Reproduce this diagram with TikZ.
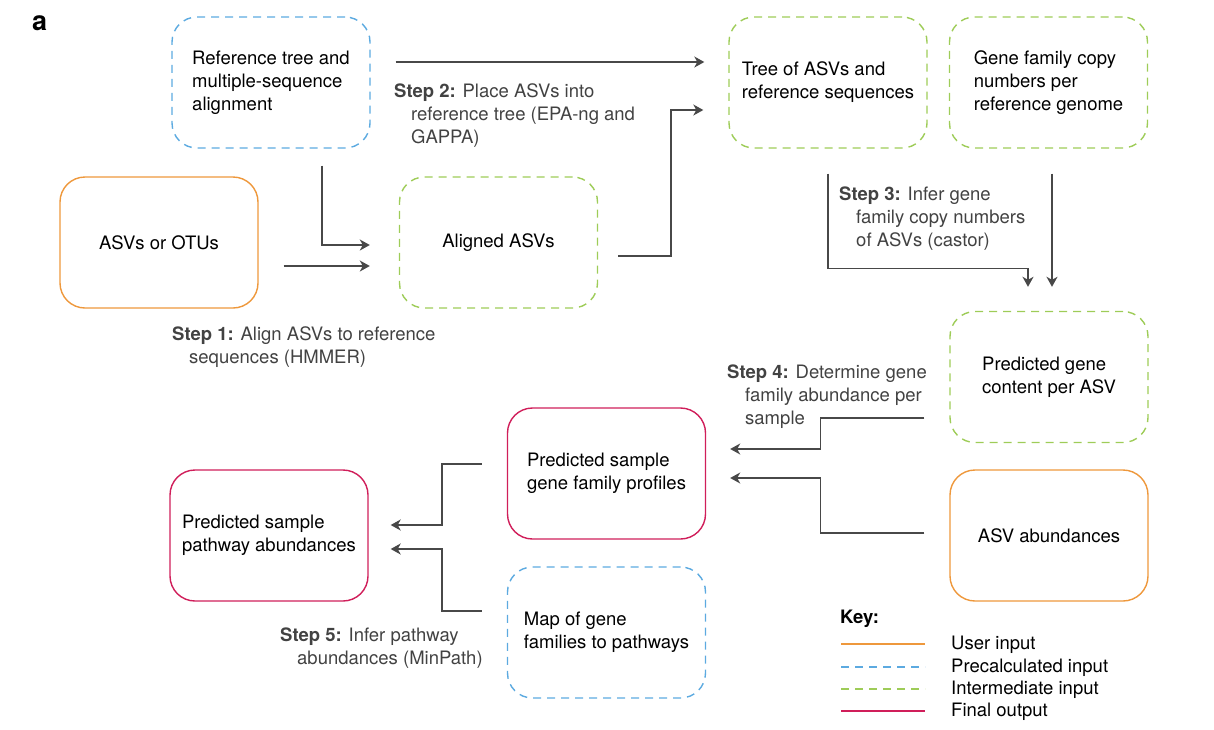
\documentclass[tikz,border=0pt]{standalone}
\usepackage{fontspec}
\setmainfont{TeX Gyre Heros}
\usetikzlibrary{arrows.meta,calc}
\definecolor{cuser}{RGB}{238,152,60}
\definecolor{cpre}{RGB}{92,170,224}
\definecolor{cint}{RGB}{158,204,88}
\definecolor{cfin}{RGB}{208,30,90}
\definecolor{carrow}{RGB}{72,72,72}
\definecolor{cstep}{RGB}{66,66,66}
\begin{document}
\begin{tikzpicture}[x=1pt,y=-1pt,
  box/.style={rounded corners=25pt, minimum width=198pt, minimum height=131pt, align=left,
    font=\fontsize{18.5}{23}\selectfont, line width=1.4pt, inner sep=0pt},
  userbox/.style={box, draw=cuser},
  prebox/.style={box, draw=cpre, dash pattern=on 8pt off 6pt},
  interbox/.style={box, draw=cint, dash pattern=on 8pt off 6pt},
  finalbox/.style={box, draw=cfin},
  arr/.style={draw=carrow, line width=1.5pt, -{Stealth[length=10pt,width=11pt,inset=3pt]}},
  steplbl/.style={anchor=north west, inner sep=0pt, align=left, text=cstep,
    font=\fontsize{18.5}{23}\selectfont},
  keylbl/.style={anchor=west, inner sep=0pt, font=\fontsize{18.5}{23}\selectfont},
  keyln/.style={line width=1.4pt},
]
\useasboundingbox (0,0) rectangle (1214,729);

\node[anchor=base west, inner sep=0pt, font=\fontsize{27}{30}\selectfont\bfseries] (lbla) at (32,30) {a};

% boxes
\node[prebox]   (ref)     at (271,82.5)    {Reference tree and\\multiple-sequence\\alignment};
\node[interbox] (tree)    at (828,82.5)    {Tree of ASVs and\\reference sequences};
\node[interbox] (gcn)     at (1048.5,82.5) {Gene family copy\\numbers per\\reference genome};
\node[userbox]  (asvs)    at (159,242.5)   {ASVs or OTUs};
\node[interbox] (aligned) at (498.5,242.5) {Aligned ASVs};
\node[interbox] (pgc)     at (1049,377)    {Predicted gene\\content per ASV};
\node[userbox]  (abund)   at (1049,535.5)  {ASV abundances};
\node[finalbox] (psg)     at (606.5,473.5) {Predicted sample\\gene family profiles};
\node[finalbox] (ppa)     at (269,535.5)   {Predicted sample\\pathway abundances};
\node[prebox]   (map)     at (606.5,632.5) {Map of gene\\families to pathways};

% connectors
\draw[arr] ([xshift=25pt,yshift=20.5pt]ref.east) -- ([xshift=-24pt,yshift=20.5pt]tree.west);
\draw[arr] ([xshift=20pt,yshift=-13.5pt]aligned.east) -- ++(53,0) |- ([xshift=-25pt,yshift=-27.5pt]tree.west);
\draw[arr] ([xshift=51pt,yshift=-17pt]ref.south) |- ([xshift=-29pt,yshift=-2.5pt]aligned.west);
\draw[arr] ([xshift=25pt,yshift=-23.5pt]asvs.east) -- ([xshift=-29pt,yshift=-23.5pt]aligned.west);
\draw[arr] ([yshift=-25pt]tree.south) -- ++(0,95) -| ([xshift=-21pt,yshift=24pt]pgc.north);
\draw[arr] ([xshift=3.5pt,yshift=-25pt]gcn.south) -- ([xshift=3pt,yshift=24pt]pgc.north);
\draw[arr] ([xshift=-25pt,yshift=-41pt]pgc.west) -- ++(-104,0) |- ([xshift=24pt,yshift=24.5pt]psg.east);
\draw[arr] ([xshift=-25pt,yshift=2.5pt]abund.west) -- ++(-104,0) |- ([xshift=24pt,yshift=-4.5pt]psg.east);
\draw[arr] ([xshift=-25pt,yshift=9.5pt]psg.west) -- ++(-40,0) |- ([xshift=22pt,yshift=10.5pt]ppa.east);
\draw[arr] ([xshift=-25pt,yshift=21.5pt]map.west) -- ++(-40,0) |- ([xshift=22pt,yshift=-13.5pt]ppa.east);

% step labels
\node[steplbl] (s1) at (172,326) {\textbf{Step 1:} Align ASVs to reference\\\hspace*{17pt}sequences (HMMER)};
\node[steplbl] (s2) at (394,83) {\textbf{Step 2:} Place ASVs into\\\hspace*{17pt}reference tree (EPA-ng and\\\hspace*{17pt}GAPPA)};
\node[steplbl] (s3) at (839,187) {\textbf{Step 3:} Infer gene\\\hspace*{17pt}family copy numbers\\\hspace*{17pt}of ASVs (castor)};
\node[steplbl] (s4) at (727,365) {\textbf{Step 4:} Determine gene\\\hspace*{18pt}family abundance per\\\hspace*{18pt}sample};
\node[steplbl] (s5) at (280,628) {\textbf{Step 5:} Infer pathway\\\hspace*{17pt}abundances (MinPath)};

% key
\node[anchor=base west, inner sep=0pt, font=\fontsize{18.5}{23}\selectfont\bfseries] (keyt) at (840,623) {Key:};
\node[keylbl] (k1) at (951,645) {User input};
\node[keylbl] (k2) at (951,668) {Precalculated input};
\node[keylbl] (k3) at (951,690) {Intermediate input};
\node[keylbl] (k4) at (951,712) {Final output};
\draw[keyln, draw=cuser] ([xshift=-110pt,yshift=1pt]k1.west) -- ([xshift=-26pt,yshift=1pt]k1.west);
\draw[keyln, draw=cpre, dash pattern=on 8pt off 6pt] ([xshift=-110pt,yshift=1pt]k2.west) -- ([xshift=-26pt,yshift=1pt]k2.west);
\draw[keyln, draw=cint, dash pattern=on 8pt off 6pt] ([xshift=-110pt,yshift=1pt]k3.west) -- ([xshift=-26pt,yshift=1pt]k3.west);
\draw[keyln, draw=cfin] ([xshift=-110pt,yshift=1pt]k4.west) -- ([xshift=-26pt,yshift=1pt]k4.west);
\end{tikzpicture}
\end{document}
